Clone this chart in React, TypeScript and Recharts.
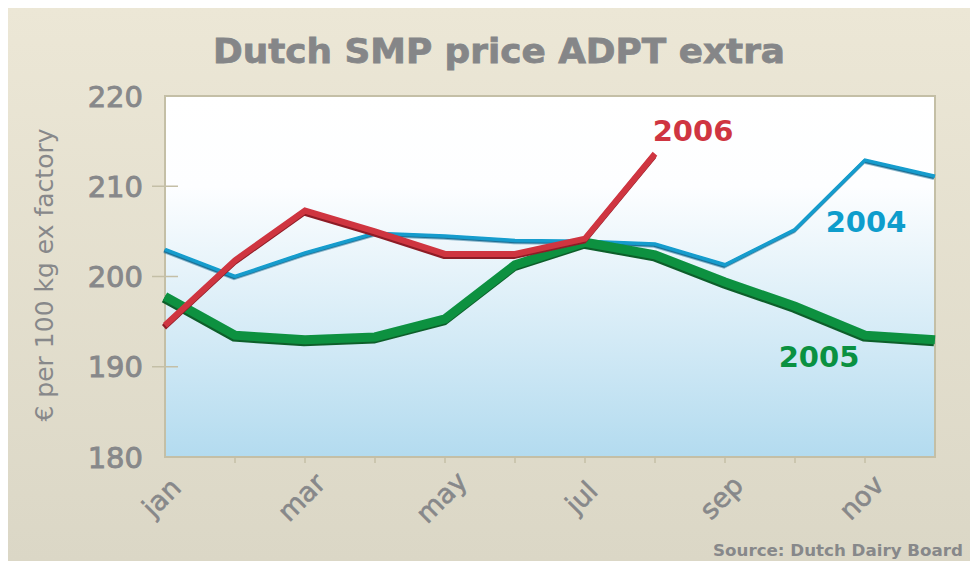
import React from 'react';
import { LineChart, Line, XAxis, YAxis, ReferenceArea, ReferenceDot } from 'recharts';

const months = ['jan', 'feb', 'mar', 'apr', 'may', 'jun', 'jul', 'aug', 'sep', 'oct', 'nov', 'dec'];
const shownMonths = ['jan', 'mar', 'may', 'jul', 'sep', 'nov'];
const price2004 = [203.0, 200.0, 202.6, 204.8, 204.5, 204.0, 203.9, 203.6, 201.3, 205.2, 212.9, 211.1];
const price2005 = [197.8, 193.5, 193.0, 193.3, 195.3, 201.3, 203.8, 202.4, 199.4, 196.7, 193.5, 193.0];
const price2006 = [194.6, 201.8, 207.3, 205.0, 202.5, 202.5, 204.2, 213.6, null, null, null, null];
const yTicks = [180, 190, 200, 210, 220];

const data = months.map((m, i) => ({
    month: m,
    y2004: price2004[i],
    y2005: price2005[i],
    y2006: price2006[i],
}));

const GREY = '#87888a';
const AXIS = '#c4bfa6';
const FONT = 'DejaVu Sans';

const YTick = (props: any) => {
    const { x, y, payload } = props;
    const v = payload.value;
    const ax = x + 8; // axis line position
    return (
        <g>
            {v !== 180 && v !== 220 && (
                <line x1={ax - 13} x2={ax + 13} y1={y} y2={y} stroke={AXIS} strokeWidth={1.5} />
            )}
            <text x={ax - 22} y={y} dy={10.5} textAnchor="end" fill={GREY} stroke={GREY} strokeWidth={0.9}
                style={{ fontFamily: FONT, fontSize: 29 }}>
                {v}
            </text>
        </g>
    );
};

const XTick = (props: any) => {
    const { x, y, payload, index } = props;
    const ay = y - 8;
    const label = shownMonths.includes(payload.value) ? payload.value : '';
    return (
        <g>
            {index > 0 && index < months.length - 1 && (
                <line x1={x} x2={x} y1={ay} y2={ay + 6} stroke={AXIS} strokeWidth={1.5} />
            )}
            {label && (
                <text transform={`translate(${x + 3},${ay + 47}) rotate(-45)`} textAnchor="middle"
                    fill={GREY} stroke={GREY} strokeWidth={0.6}
                    style={{ fontFamily: FONT, fontSize: 27 }}>
                    {label}
                </text>
            )}
        </g>
    );
};

const seriesLabel = (text: string, color: string, dx: number) => ({
    value: text,
    position: 'center' as const,
    dx,
    fill: color,
    style: { fontFamily: FONT, fontWeight: 700, fontSize: 29 },
});

export default function App() {
    return (
        <div style={{
            position: 'relative', width: 970, height: 553,
            background: 'linear-gradient(#ece7d6, #dbd7c6)',
        }}>
            <LineChart width={970} height={553} data={data}
                margin={{ top: 88, right: 43, left: 0, bottom: 0 }}
                style={{ position: 'absolute', left: 0, top: 0 }}>
                <defs>
                    <linearGradient id="plotBg" x1="0" y1="0" x2="0" y2="1">
                        <stop offset="0%" stopColor="#ffffff" />
                        <stop offset="25%" stopColor="#fdfeff" />
                        <stop offset="100%" stopColor="#b3dbef" />
                    </linearGradient>
                    <filter id="shBlue" x="-10%" y="-10%" width="120%" height="120%">
                        <feDropShadow dx="-1" dy="1.5" stdDeviation="0" floodColor="#1a6f95" />
                    </filter>
                    <filter id="shGreen" x="-10%" y="-10%" width="120%" height="120%">
                        <feDropShadow dx="-1" dy="2" stdDeviation="0" floodColor="#0b5e2c" />
                    </filter>
                    <filter id="shRed" x="-10%" y="-10%" width="120%" height="120%">
                        <feDropShadow dx="-1" dy="2" stdDeviation="0" floodColor="#8e1f27" />
                    </filter>
                </defs>
                <XAxis dataKey="month" height={104} interval={0} tickLine={false}
                    axisLine={false} tick={<XTick />} />
                <YAxis width={157} domain={[180, 220]} ticks={yTicks} interval={0} tickLine={false}
                    axisLine={false} tick={<YTick />} />
                <ReferenceArea x1="jan" x2="dec" y1={180} y2={220} fill="url(#plotBg)" fillOpacity={1}
                    stroke={AXIS} strokeWidth={2} ifOverflow="visible" />
                <Line dataKey="y2004" stroke="#129ccd" strokeWidth={3.5} dot={false}
                    isAnimationActive={false} filter="url(#shBlue)" />
                <Line dataKey="y2005" stroke="#0a9141" strokeWidth={9} dot={false}
                    isAnimationActive={false} filter="url(#shGreen)" />
                <Line dataKey="y2006" stroke="#cf3541" strokeWidth={6} dot={false}
                    isAnimationActive={false} filter="url(#shRed)" />
                <ReferenceDot x="aug" y={216.1} r={0} stroke="none" ifOverflow="visible"
                    label={seriesLabel('2006', '#cf3541', 38)} />
                <ReferenceDot x="nov" y={206.1} r={0} stroke="none" ifOverflow="visible"
                    label={seriesLabel('2004', '#0e9dcc', 1)} />
                <ReferenceDot x="oct" y={191.1} r={0} stroke="none" ifOverflow="visible"
                    label={seriesLabel('2005', '#0a9141', 24)} />
            </LineChart>
            <svg width={970} height={553} style={{ position: 'absolute', left: 0, top: 0, pointerEvents: 'none' }}>
                <text x={205} y={55} textLength={572} lengthAdjust="spacingAndGlyphs" fill="#858688"
                    stroke="#858688" strokeWidth={0.8}
                    style={{ fontFamily: FONT, fontWeight: 700, fontSize: 34 }}>
                    Dutch SMP price ADPT extra
                </text>
                <text x={955} y={548} textAnchor="end" fill={GREY}
                    style={{ fontFamily: FONT, fontWeight: 700, fontSize: 16.7 }}>
                    Source: Dutch Dairy Board
                </text>
                <text transform="translate(45,267) rotate(-90)" textAnchor="middle" fill={GREY}
                    style={{ fontFamily: FONT, fontSize: 25 }}>
                    € per 100 kg ex factory
                </text>
            </svg>
        </div>
    );
}
